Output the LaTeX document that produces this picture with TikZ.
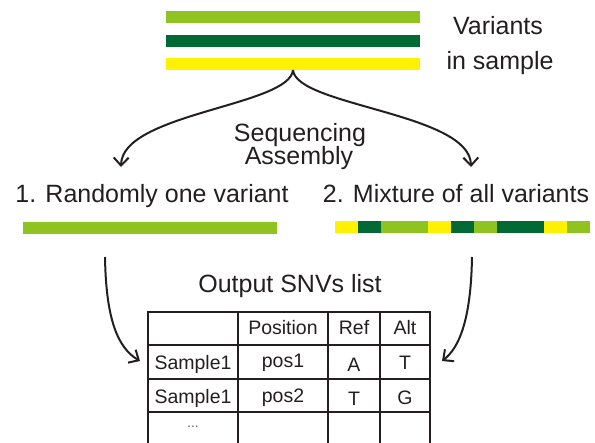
\documentclass[tikz,border=0pt]{standalone}
\usepackage{fontspec}
\setmainfont{Liberation Sans}
\usetikzlibrary{arrows.meta,positioning}
\definecolor{varlight}{HTML}{8FC31F}
\definecolor{vardark}{HTML}{006934}
\definecolor{varyellow}{HTML}{FFF100}
\definecolor{inkblack}{HTML}{231F20}

\begin{document}
\begin{tikzpicture}[
  x=1pt, y=-1pt,
  varbar/.style={rectangle, draw=none, inner sep=0pt, outer sep=0pt, minimum width=254pt, minimum height=12pt, anchor=north west},
  mixseg/.style={rectangle, draw=none, inner sep=0pt, outer sep=0pt, minimum height=12pt},
  headtext/.style={font=\fontsize{25}{28}\selectfont, text=inkblack, inner sep=0pt, anchor=base},
  celltext/.style={font=\fontsize{19.5}{22}\selectfont, text=inkblack, inner sep=0pt, anchor=base},
  flowarrow/.style={-{Straight Barb[length=8pt,width=15pt,line width=2pt]}, line width=2pt, draw=inkblack},
  tableline/.style={line width=2.4pt, draw=inkblack}
]
  \useasboundingbox (0,0) rectangle (595,443);

  % Variants in sample
  \node[varbar, fill=varlight] (vlight) at (166,11) {};
  \node[varbar, fill=vardark] (vdark) at (166,35) {};
  \node[varbar, fill=varyellow] (vyellow) at (166,58) {};
  \node[headtext] (vtitle) at (498,35) {Variants};
  \node[headtext] (vtitle2) at (500,70) {in sample};

  % Sequencing step
  \node[headtext] (seq) at (300,142) {Sequencing};
  \node[headtext] (asm) at (299,165) {Assembly};
  \coordinate (tipL) at (121,167);
  \coordinate (tipR) at (471,167);
  \draw[flowarrow] (vyellow.south) .. controls +(-3,36) and +(1,-54) .. (tipL);
  \draw[flowarrow] (vyellow.south) .. controls +(3,36) and +(-1,-54) .. (tipR);

  % Two outcomes
  \node[headtext] (one) at (152,203) {1. Randomly one variant};
  \node[headtext] (mix) at (456,203) {2. Mixture of all variants};
  \node[varbar, fill=varlight] (onebar) at (23,222) {};
  \node[mixseg, fill=varyellow, minimum width=23.2pt, anchor=north west] (m1) at (335,221) {};
  \foreach \col/\u [count=\i from 2, remember=\i as \j (initially 1)] in
    {vardark/1, varlight/2, varyellow/1, vardark/1, varlight/1, vardark/2, varyellow/1, varlight/1}
    \node[mixseg, fill=\col, minimum width=\u*23.2pt, right=0pt of m\j] (m\i) {};

  % Output table
  \node[headtext] (outtitle) at (290,293) {Output SNVs list};
  \draw[tableline] (148,443) -- (148,312) -- (430,312) -- (430,443);
  \foreach \cx in {238,328,380}
    \draw[tableline] (\cx,312) -- (\cx,443);
  \foreach \ry in {345,379,412}
    \draw[tableline] (148,\ry) -- (430,\ry);

  \node[celltext] (hpos) at (283,335) {Position};
  \node[celltext] (href) at (354,335) {Ref};
  \node[celltext] (halt) at (405,335) {Alt};
  \node[celltext] (s1) at (193,370) {Sample1};
  \node[celltext] (p1) at (283,368) {pos1};
  \node[celltext] (r1) at (354,372) {A};
  \node[celltext] (a1) at (405,370) {T};
  \node[celltext] (s2) at (193,404) {Sample1};
  \node[celltext] (p2) at (283,403) {pos2};
  \node[celltext] (r2) at (354,406) {T};
  \node[celltext] (a2) at (405,405) {G};
  \node[celltext, font=\fontsize{14}{16}\selectfont, text=inkblack!70] (dots) at (193,428) {...};

  % Arrows into the table
  \coordinate (srcL) at (105,257);
  \coordinate (srcR) at (472,257);
  \coordinate (tipTL) at (140,361);
  \coordinate (tipTR) at (442,361);
  \draw[flowarrow] (srcL) .. controls (106,320) and (118,348) .. (tipTL);
  \draw[flowarrow] (srcR) .. controls (471,320) and (459,348) .. (tipTR);
\end{tikzpicture}
\end{document}
